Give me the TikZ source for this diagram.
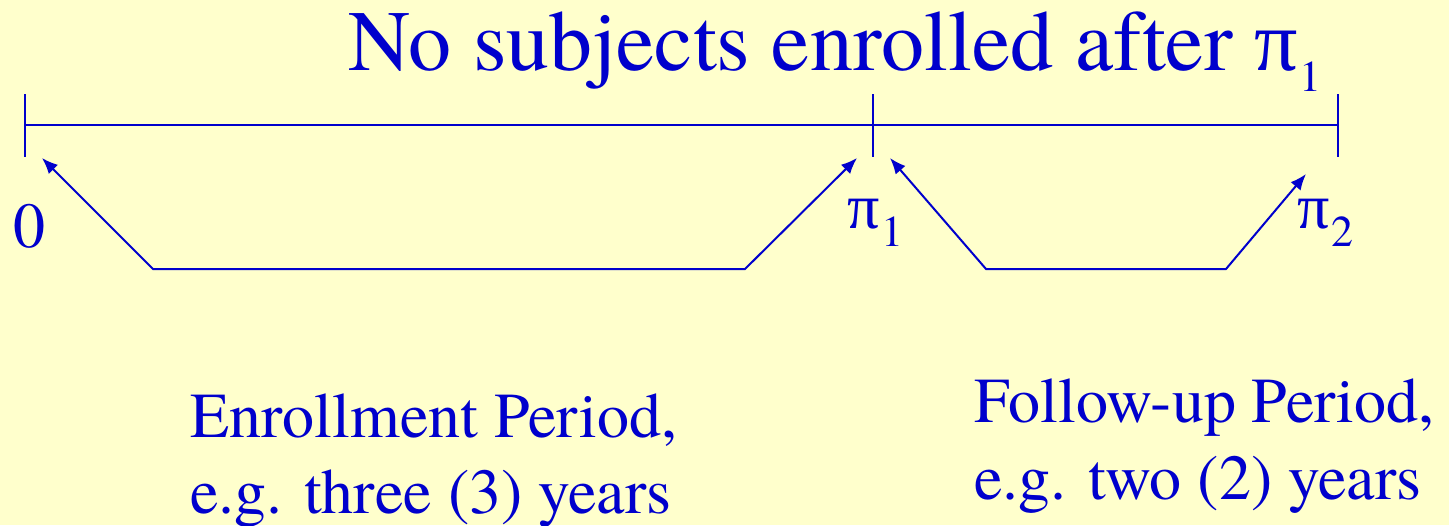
\documentclass[tikz,border=0pt]{standalone}
\usepackage{fontspec}
\IfFontExistsTF{texgyretermes-regular.otf}
  {\setmainfont{texgyretermes-regular.otf}}
  {\setmainfont{Liberation Serif}}
\newfontfamily\greekfont{Liberation Serif}
\usetikzlibrary{calc,arrows.meta}
\definecolor{slideyellow}{HTML}{FFFFCC}
\definecolor{slideblue}{HTML}{0000CC}
% pi with a lowered index: size, drop, index
\newcommand{\pisub}[3]{{\greekfont π}\kern1pt\raisebox{-#2}{\fontsize{#1}{#1}\selectfont #3}}

\begin{document}
\begin{tikzpicture}[x=0.5pt, y=-0.5pt,
        txt/.style={text=slideblue, inner sep=0pt, anchor=base west, font=\rmfamily\fontsize{32}{38}\selectfont},
        tick/.style={draw=slideblue, line width=1pt},
        span/.style={draw=slideblue, line width=1pt,
          {Latex[length=8pt,width=6.5pt]}-{Latex[length=8pt,width=6.5pt]}},
      ]
      \fill[slideyellow] (0,0) rectangle (1449,525);
      \useasboundingbox (0,0) rectangle (1449,525);

      % Title
      \node[txt, font=\rmfamily\fontsize{43}{50}\selectfont] (title) at (348,70)
        {No subjects enrolled after \pisub{22pt}{10.5pt}{1}};

      % Time axis with ticks at 0, pi_1, pi_2
      \coordinate (t0) at (25,125);
      \coordinate (t1) at (873,125);
      \coordinate (t2) at (1338,125);
      \draw[tick] (t0) -- (t2);
      \foreach \t in {t0,t1,t2}
        \draw[tick] ($(\t)+(0,-31)$) -- ($(\t)+(0,32)$);

      % Tick labels
      \node[txt, anchor=base] (lab0) at (29,247) {0};
      \node[txt] (lab1) at (847,228) {\pisub{22pt}{9pt}{1}};
      \node[txt] (lab2) at (1297,228) {\pisub{22pt}{9pt}{2}};

      % Spans under the axis
      \coordinate (a0) at (42,158);
      \coordinate (a1) at (857,158);
      \coordinate (b1) at (890,158);
      \coordinate (b2) at (1306,174);
      \draw[span] (a0) -- (153,269) -- (745,269) -- (a1);
      \draw[span] (b1) -- (986,269) -- (1226,269) -- (b2);

      % Period labels
      \node[txt] (enrl) at (190,437) {Enrollment Period,};
      \node[txt] (enrlyrs) at (190,513) {e.g. three (3) years};
      \node[txt] (fup) at (974,422) {Follow-up Period,};
      \node[txt] (fupyrs) at (974,499) {e.g. two (2) years};
    \end{tikzpicture}
\end{document}
